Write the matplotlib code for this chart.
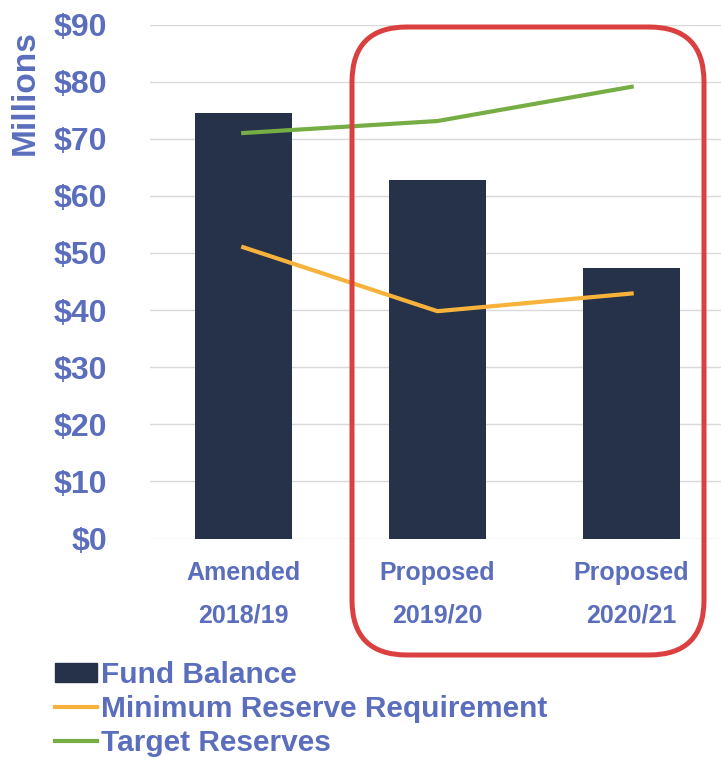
import matplotlib.pyplot as plt
import matplotlib.patches as mpatches
from matplotlib.lines import Line2D
import numpy as np

plt.rcParams['font.family'] = ['Liberation Sans', 'DejaVu Sans']
plt.rcParams['font.weight'] = 'bold'

# Data (millions of dollars)
categories = ['Amended\n2018/19', 'Proposed\n2019/20', 'Proposed\n2020/21']
fund_balance = [74.5, 62.8, 47.4]
min_reserve = [51.0, 39.8, 42.9]
target_reserves = [71.0, 73.1, 79.1]
yticks = [0, 10, 20, 30, 40, 50, 60, 70, 80, 90]

text_color = '#5B6EBD'
bar_color = '#26324A'
orange = '#F7B23B'
green = '#76AE45'

fig = plt.figure(figsize=(7.21, 7.59), dpi=100)
ax = fig.add_axes([150 / 721, 1 - 538.5 / 759, 1 - 150 / 721, (538.5 - 24.5) / 759])

x = np.arange(len(categories))
ax.bar(x, fund_balance, width=0.5, color=bar_color, zorder=2)
ax.plot(x, min_reserve, color=orange, lw=3, zorder=3)
ax.plot(x, target_reserves, color=green, lw=3, zorder=3)

ax.set_xlim(-0.48, 2.46)
ax.set_ylim(0, 90)
ax.set_yticks(yticks)
ax.set_yticklabels([f'${v}' for v in yticks], fontsize=23, color=text_color, fontweight='bold')
ax.set_xticks(x)
ax.set_xticklabels(categories, fontsize=18, color=text_color, fontweight='bold', linespacing=2.0)
ax.tick_params(axis='y', length=0, pad=31)
ax.tick_params(axis='x', length=0, pad=16)
ax.grid(axis='y', color='#D9D9D9', lw=1, zorder=0)
ax.set_axisbelow(True)
for s in ax.spines.values():
    s.set_visible(False)

fig.text(25 / 721, 1 - 93 / 759, 'Millions', rotation=90, fontsize=24, color=text_color,
         fontweight='bold', ha='center', va='center')

# red highlight box around the proposed years
box = mpatches.FancyBboxPatch((3.52, 1.04), 3.52, 6.28,
                              boxstyle='round,pad=0,rounding_size=0.55',
                              transform=fig.dpi_scale_trans, fill=False,
                              edgecolor='#D9403F', lw=3.6, clip_on=False, zorder=5)
fig.add_artist(box)

handles = [mpatches.Patch(color=bar_color),
           Line2D([], [], color=orange, lw=3),
           Line2D([], [], color=green, lw=3)]
labels = ['Fund Balance', 'Minimum Reserve Requirement', 'Target Reserves']
leg = fig.legend(handles, labels, loc='upper left', bbox_to_anchor=(55 / 721, 1 - 661 / 759),
                 frameon=False, fontsize=21.5, handlelength=1.4, handleheight=0.6,
                 handletextpad=0.15, labelspacing=0.2, borderpad=0, borderaxespad=0)
for t in leg.get_texts():
    t.set_color(text_color)
    t.set_fontweight('bold')

fig.savefig('out.png', dpi=100)
